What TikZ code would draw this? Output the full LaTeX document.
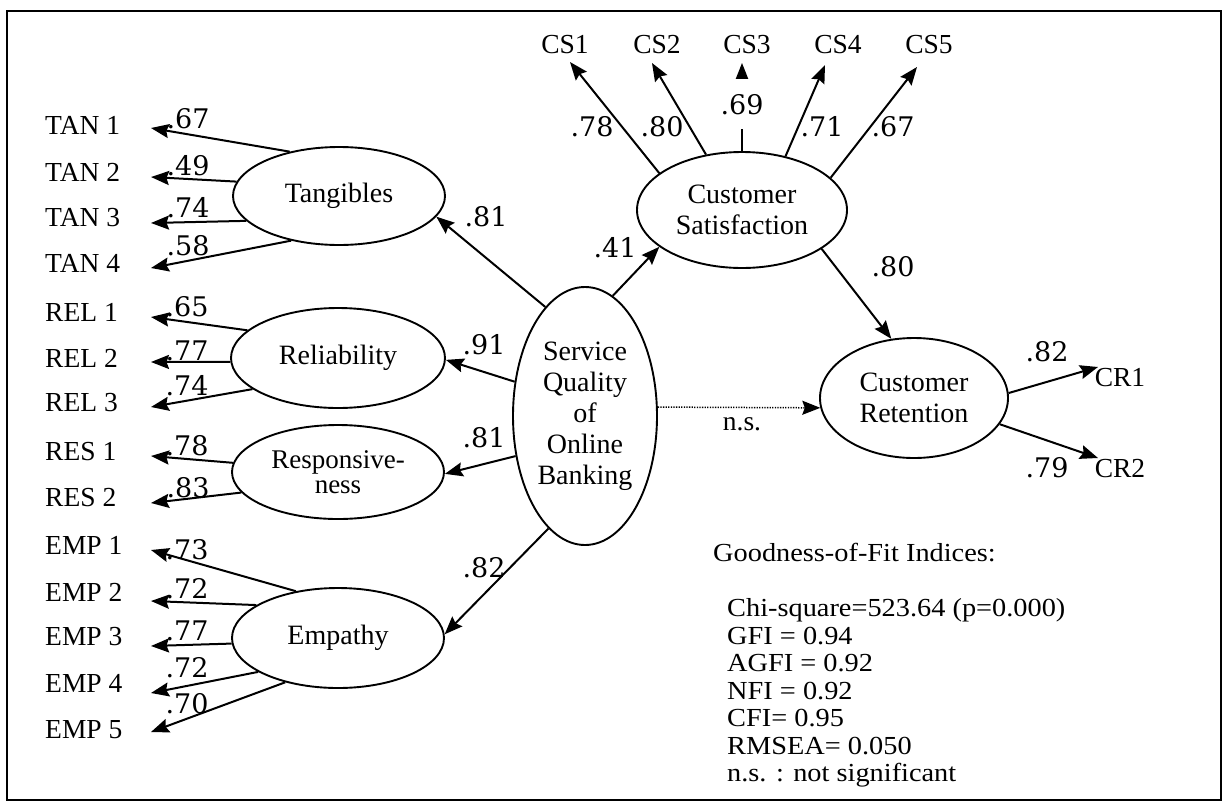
\documentclass[tikz,border=0pt]{standalone}
\usepackage{fontspec}
\setmainfont{Liberation Serif}
\newfontfamily\numfont{DejaVu Serif}
\newfontfamily\goffont{Liberation Serif}[FakeStretch=1.09]
\usetikzlibrary{shapes.geometric,arrows.meta}
\begin{document}
\begin{tikzpicture}[x=1pt,y=-1pt,
  lat/.style={draw, ellipse, line width=1.9pt, inner sep=0pt, align=center, font=\fontsize{28}{31}\selectfont},
  ind/.style={inner sep=0pt, font=\fontsize{27.5}{30}\selectfont},
  num/.style={inner sep=0pt, font=\numfont\fontsize{27}{29}\selectfont},
  gof/.style={inner sep=0pt, font=\goffont\fontsize{26}{27.5}\selectfont},
  arr/.style={line width=2pt, -{Stealth[length=18pt,width=14pt,inset=2.5pt]}},
  frame/.style={line width=2pt}
]
\useasboundingbox (0,0) rectangle (1225,806);
\draw[frame] (7,11) rectangle (1221,800);

% latent variables
\node[lat, minimum width=212pt, minimum height=98pt] (tan) at (339,196) {Tangibles};
\node[lat, minimum width=214pt, minimum height=100pt] (rel) at (338,358) {Reliability};
\node[lat, minimum width=212pt, minimum height=94pt, font=\fontsize{27}{25}\selectfont] (res) at (338,472) {Responsive-\\ness};
\node[lat, minimum width=212pt, minimum height=100pt] (emp) at (338,638) {Empathy};
\node[lat, minimum width=144pt, minimum height=258pt] (sq) at (585,416) {Service\\Quality\\of\\Online\\Banking};
\node[lat, minimum width=210pt, minimum height=116pt] (cs) at (742,210) {Customer\\Satisfaction};
\node[lat, minimum width=188pt, minimum height=120pt] (cr) at (914,398) {Customer\\Retention};

% indicators left
\node[ind, anchor=west] (tan1) at (45,125) {TAN 1};
\node[ind, anchor=west] (tan2) at (45,172) {TAN 2};
\node[ind, anchor=west] (tan3) at (45,218) {TAN 3};
\node[ind, anchor=west] (tan4) at (45,263) {TAN 4};
\node[ind, anchor=west] (rel1) at (45,312) {REL 1};
\node[ind, anchor=west] (rel2) at (45,358) {REL 2};
\node[ind, anchor=west] (rel3) at (45,403) {REL 3};
\node[ind, anchor=west] (res1) at (45,452) {RES 1};
\node[ind, anchor=west] (res2) at (45,498) {RES 2};
\node[ind, anchor=west] (emp1) at (45,545) {EMP 1};
\node[ind, anchor=west] (emp2) at (45,592) {EMP 2};
\node[ind, anchor=west] (emp3) at (45,637) {EMP 3};
\node[ind, anchor=west] (emp4) at (45,683) {EMP 4};
\node[ind, anchor=west] (emp5) at (45,730) {EMP 5};

\coordinate (t1) at (151,128);
\coordinate (t2) at (151,177);
\coordinate (t3) at (151,223);
\coordinate (t4) at (151,268);
\coordinate (r1) at (151,317);
\coordinate (r2) at (151,362);
\coordinate (r3) at (151,407);
\coordinate (s1) at (151,456);
\coordinate (s2) at (151,503);
\coordinate (e1) at (151,550);
\coordinate (e2) at (151,601);
\coordinate (e3) at (151,646);
\coordinate (e4) at (151,693);
\coordinate (e5) at (151,732);

\draw[arr] (tan.138) -- (t1);
\draw[arr] (tan.172) -- (t2);
\draw[arr] (tan.195) -- (t3);
\draw[arr] (tan.223) -- (t4);
\draw[arr] (rel.163) -- (r1);
\draw[arr] (rel.182) -- (r2);
\draw[arr] (rel.200) -- (r3);
\draw[arr] (res.175) -- (s1);
\draw[arr] (res.192) -- (s2);
\draw[arr] (emp.132) -- (e1);
\draw[arr] (emp.158) -- (e2);
\draw[arr] (emp.183) -- (e3);
\draw[arr] (emp.203) -- (e4);
\draw[arr] (emp.220) -- (e5);

\node[num] (lt1) at (188,119) {.67};
\node[num] (lt2) at (188,166) {.49};
\node[num] (lt3) at (188,208) {.74};
\node[num] (lt4) at (188,246) {.58};
\node[num] (lr1) at (187,307) {.65};
\node[num] (lr2) at (187,351) {.77};
\node[num] (lr3) at (187,386) {.74};
\node[num] (ls1) at (187,446) {.78};
\node[num] (ls2) at (188,488) {.83};
\node[num] (le1) at (187,550) {.73};
\node[num] (le2) at (187,589) {.72};
\node[num] (le3) at (187,631) {.77};
\node[num] (le4) at (187,668) {.72};
\node[num] (le5) at (187,704) {.70};

% structural paths
\draw[arr] (sq.110) -- (tan.348);
\draw[arr] (sq.154) -- (rel.359);
\draw[arr] (sq.210) -- (res.359);
\draw[arr] (sq.252) -- (emp.2);
\draw[arr] (sq.77) -- (cs.204);
\draw[arr] (cs.334) -- (cr.111);
\draw[line width=1.5pt, dash pattern=on 1.3pt off 1.3pt, -{Stealth[length=18pt,width=14pt,inset=2.5pt]}] (sq.7) -- (cr.186);

\node[num] (l81a) at (486,217) {.81};
\node[num] (l91) at (484,345) {.91};
\node[num] (l81b) at (484,438) {.81};
\node[num] (l82) at (484,568) {.82};
\node[num] (l41) at (615,248) {.41};
\node[num] (l80) at (893,267) {.80};
\node[ind] (ns) at (742,424) {n.s.};

% customer satisfaction indicators
\node[ind] (cs1) at (565,45) {CS1};
\node[ind] (cs2) at (657,45) {CS2};
\node[ind] (cs3) at (747,45) {CS3};
\node[ind] (cs4) at (838,45) {CS4};
\node[ind] (cs5) at (929,45) {CS5};
\coordinate (c1) at (570,62);
\coordinate (c2) at (652,63);
\coordinate (c3) at (742,63);
\coordinate (c4) at (825,65);
\coordinate (c5) at (917,67);
\draw[arr] (cs.156) -- (c1);
\draw[arr] (cs.123) -- (c2);
\draw[arr] (cs.90) -- node[num, pos=0.53, fill=white, minimum height=50pt, minimum width=44pt] (l69) {.69} (c3);
\draw[arr] (cs.51) -- (c4);
\draw[arr] (cs.20) -- (c5);
\node[num] (l78) at (592,127) {.78};
\node[num] (l80b) at (662,127) {.80};
\node[num] (l71) at (822,127) {.71};
\node[num] (l67) at (893,127) {.67};

% customer retention indicators
\node[ind] (cr1) at (1120,378) {CR1};
\node[ind] (cr2) at (1120,469) {CR2};
\coordinate (k1) at (1098,367);
\coordinate (k2) at (1098,458);
\draw[arr] (cr.3) -- (k1);
\draw[arr] (cr.343) -- (k2);
\node[num] (l82b) at (1047,352) {.82};
\node[num] (l79) at (1047,468) {.79};

% fit indices
\node[gof, anchor=west] (goft) at (713,553) {Goodness-of-Fit Indices:};
\node[gof, anchor=west, align=left] (gofb) at (727,693) {Chi-square=523.64 (p=0.000)\\GFI = 0.94\\AGFI = 0.92\\NFI = 0.92\\CFI= 0.95\\RMSEA= 0.050\\n.s. : not significant};
\end{tikzpicture}
\end{document}
